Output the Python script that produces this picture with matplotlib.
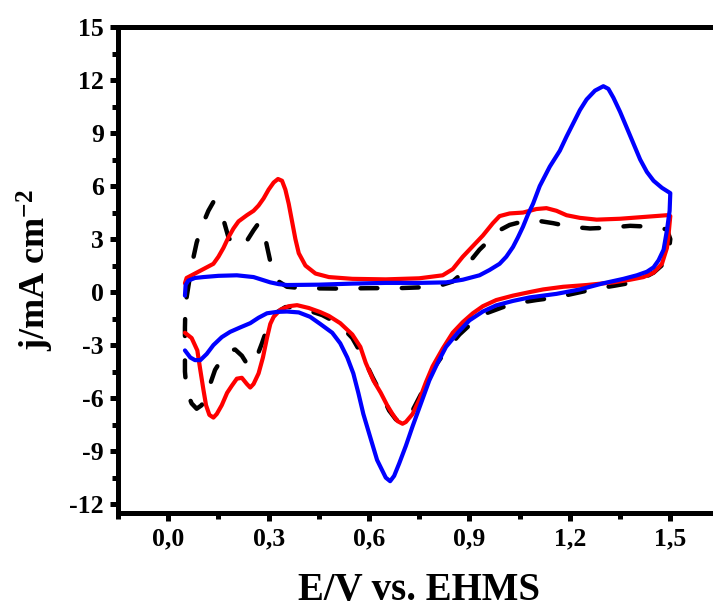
import numpy as np
import matplotlib
matplotlib.use('Agg')
import matplotlib.pyplot as plt
from matplotlib.ticker import MultipleLocator, FuncFormatter

plt.rcParams['font.family'] = ['Liberation Serif', 'DejaVu Serif']
plt.rcParams['font.weight'] = 'bold'
plt.rcParams['mathtext.fontset'] = 'custom'
plt.rcParams['mathtext.rm'] = 'Liberation Serif:bold'
plt.rcParams['mathtext.it'] = 'Liberation Serif:bold'
plt.rcParams['mathtext.bf'] = 'Liberation Serif:bold'
plt.rcParams['axes.unicode_minus'] = False

# black dashed curve: anodic sweep, then cathodic sweep
black_x_an = [0.055, 0.06, 0.07, 0.085, 0.10, 0.12, 0.135, 0.15, 0.165, 0.18, 0.195, 0.215, 0.235, 0.255, 0.27,
              0.285, 0.295, 0.31, 0.33, 0.355, 0.40, 0.5, 0.6, 0.7, 0.8, 0.85, 0.88, 0.90, 0.93, 0.96, 0.99, 1.02,
              1.06, 1.10, 1.15, 1.2, 1.26, 1.32, 1.38, 1.44, 1.49]
black_y_an = [-0.3, 0.3, 1.5, 2.8, 3.7, 4.6, 5.1, 4.8, 4.1, 3.1, 2.65, 2.6, 2.9, 3.5, 3.9,
              3.5, 2.6, 1.3, 0.6, 0.3, 0.22, 0.2, 0.22, 0.23, 0.3, 0.6, 1.1, 1.7, 2.4, 2.95, 3.5, 3.8,
              4.0, 4.05, 3.9, 3.7, 3.6, 3.65, 3.75, 3.7, 3.55]
black_x_ca = [1.5, 1.495, 1.48, 1.45, 1.42, 1.39, 1.33, 1.28, 1.22, 1.16, 1.10, 1.05, 1.0, 0.95, 0.91, 0.87,
              0.83, 0.79, 0.76, 0.73, 0.71, 0.695, 0.68, 0.66, 0.64, 0.61, 0.58, 0.55, 0.52, 0.49, 0.46, 0.42,
              0.38, 0.35, 0.32, 0.30, 0.28, 0.26, 0.24, 0.22, 0.20, 0.185, 0.16, 0.14, 0.12, 0.10, 0.085, 0.07,
              0.055, 0.05, 0.05, 0.052]
black_y_ca = [3.0, 2.2, 1.6, 1.1, 0.8, 0.55, 0.35, 0.2, -0.05, -0.3, -0.45, -0.6, -0.85, -1.2, -1.7, -2.4,
              -3.3, -4.4, -5.6, -6.7, -7.3, -7.4, -7.2, -6.7, -5.9, -4.8, -3.6, -2.6, -2.0, -1.6, -1.3, -1.05,
              -0.85, -0.85, -1.2, -1.8, -2.9, -3.9, -4.2, -3.6, -3.25, -3.3, -3.8, -4.4, -5.5, -6.4, -6.6, -6.3,
              -5.6, -4.5, -2.0, -0.3]

# red curve
red_x_an = [0.05, 0.055, 0.08, 0.105, 0.135, 0.15, 0.165, 0.18, 0.195, 0.21, 0.235, 0.255, 0.27, 0.285, 0.30,
            0.315, 0.328, 0.34, 0.35, 0.36, 0.37, 0.38, 0.39, 0.41, 0.44, 0.48, 0.55, 0.65, 0.75, 0.82, 0.85,
            0.88, 0.91, 0.94, 0.97, 0.99, 1.02, 1.06, 1.10, 1.13, 1.16, 1.19, 1.23, 1.28, 1.35, 1.42, 1.49, 1.5]
red_y_an = [0.5, 0.8, 1.05, 1.3, 1.6, 2.0, 2.5, 3.1, 3.6, 4.0, 4.35, 4.6, 4.9, 5.3, 5.8,
            6.2, 6.4, 6.3, 5.8, 5.0, 4.0, 3.0, 2.2, 1.5, 1.05, 0.85, 0.75, 0.72, 0.78, 0.95, 1.3,
            2.0, 2.6, 3.2, 3.9, 4.3, 4.45, 4.5, 4.7, 4.75, 4.6, 4.35, 4.2, 4.1, 4.15, 4.25, 4.35, 4.3]
red_x_ca = [1.495, 1.49, 1.475, 1.45, 1.42, 1.38, 1.33, 1.25, 1.18, 1.12, 1.08, 1.03, 0.98, 0.94, 0.91, 0.88,
            0.85, 0.82, 0.79, 0.77, 0.75, 0.73, 0.71, 0.70, 0.685, 0.67, 0.654, 0.635, 0.613, 0.59, 0.574,
            0.55, 0.514, 0.48, 0.454, 0.42, 0.385, 0.36, 0.335, 0.315, 0.305, 0.295, 0.283, 0.27, 0.255, 0.245,
            0.235, 0.22, 0.205, 0.19, 0.176, 0.16, 0.145, 0.135, 0.123, 0.113, 0.105, 0.095, 0.087, 0.07, 0.05]
red_y_ca = [3.3, 2.5, 1.6, 1.1, 0.85, 0.7, 0.55, 0.4, 0.3, 0.15, 0.0, -0.2, -0.45, -0.8, -1.2, -1.7,
            -2.3, -3.2, -4.2, -5.1, -6.1, -6.9, -7.35, -7.45, -7.3, -6.9, -6.4, -5.7, -5.0, -4.0, -3.1,
            -2.4, -1.76, -1.35, -1.13, -0.9, -0.74, -0.8, -1.0, -1.4, -1.8, -2.6, -3.7, -4.6, -5.2, -5.4,
            -5.2, -4.85, -4.9, -5.3, -5.7, -6.4, -6.9, -7.1, -6.95, -6.4, -5.5, -4.3, -3.3, -2.6, -2.3]

# blue curve
blue_x_an = [0.05, 0.052, 0.06, 0.08, 0.105, 0.15, 0.205, 0.255, 0.28, 0.305, 0.33, 0.355, 0.45, 0.55, 0.65,
             0.75, 0.83, 0.88, 0.93, 0.96, 0.99, 1.01, 1.03, 1.045, 1.06, 1.075, 1.09, 1.11, 1.14, 1.17, 1.19,
             1.21, 1.23, 1.25, 1.275, 1.30, 1.315, 1.33, 1.35, 1.37, 1.39, 1.41, 1.43, 1.45, 1.475, 1.50]
blue_y_an = [-0.2, 0.4, 0.65, 0.8, 0.85, 0.92, 0.95, 0.85, 0.7, 0.55, 0.45, 0.4, 0.42, 0.48, 0.52,
             0.52, 0.55, 0.7, 0.95, 1.25, 1.6, 2.0, 2.55, 3.1, 3.7, 4.4, 5.0, 6.0, 7.1, 8.0, 8.8,
             9.55, 10.3, 10.9, 11.4, 11.65, 11.5, 11.0, 10.2, 9.3, 8.4, 7.5, 6.8, 6.3, 5.9, 5.6]
blue_x_ca = [1.498, 1.49, 1.48, 1.465, 1.45, 1.43, 1.40, 1.36, 1.30, 1.23, 1.16, 1.08, 1.03, 0.98, 0.94, 0.90,
             0.865, 0.83, 0.805, 0.78, 0.755, 0.73, 0.71, 0.69, 0.675, 0.663, 0.65, 0.637, 0.624, 0.605, 0.583,
             0.568, 0.553, 0.535, 0.514, 0.49, 0.454, 0.424, 0.39, 0.355, 0.325, 0.295, 0.27, 0.245, 0.215,
             0.185, 0.16, 0.135, 0.115, 0.096, 0.08, 0.066, 0.05]
blue_y_ca = [4.6, 3.5, 2.4, 1.8, 1.4, 1.15, 0.95, 0.75, 0.5, 0.15, -0.1, -0.3, -0.5, -0.75, -1.1, -1.6,
             -2.3, -3.1, -4.0, -5.0, -6.3, -7.6, -8.7, -9.7, -10.4, -10.7, -10.5, -10.0, -9.5, -8.3, -6.9,
             -5.7, -4.6, -3.7, -2.9, -2.3, -1.8, -1.4, -1.15, -1.1, -1.12, -1.2, -1.45, -1.76, -2.0,
             -2.25, -2.55, -3.0, -3.5, -3.85, -3.85, -3.7, -3.3]

x_ticks = [0.0, 0.3, 0.6, 0.9, 1.2, 1.5]
y_ticks = [-12, -9, -6, -3, 0, 3, 6, 9, 12, 15]

fig = plt.figure(figsize=(7.13, 6.1), dpi=100)
# axes run past the right edge, as in the cropped reference
ax = fig.add_axes([118 / 713, 97 / 610, 602.5 / 713, 486 / 610])

ax.plot(black_x_an + black_x_ca, black_y_an + black_y_ca, color='black', lw=3.2,
        dashes=(3.8, 5.5), dash_capstyle='round', solid_joinstyle='round')
ax.plot(red_x_an + red_x_ca, red_y_an + red_y_ca, color='#ff0000', lw=3.0,
        solid_capstyle='round', solid_joinstyle='round')
ax.plot(blue_x_an + blue_x_ca, blue_y_an + blue_y_ca, color='#0000ff', lw=3.0,
        solid_capstyle='round', solid_joinstyle='round')

ax.set_xlim(-0.15, 1.65)
ax.set_ylim(-12.5, 15)
ax.set_xticks(x_ticks)
ax.set_yticks(y_ticks)
ax.xaxis.set_minor_locator(MultipleLocator(0.15))
ax.yaxis.set_minor_locator(MultipleLocator(1.5))
ax.xaxis.set_major_formatter(FuncFormatter(lambda v, p: f'{v:.1f}'.replace('.', ',')))
ax.yaxis.set_major_formatter(FuncFormatter(lambda v, p: f'{int(round(v))}'))

for s in ax.spines.values():
    s.set_linewidth(3.6)
ax.tick_params(which='major', direction='out', length=6, width=3.6, labelsize=18.5, pad=4)
ax.tick_params(which='minor', direction='out', length=4, width=3.6)
for lab in ax.get_xticklabels() + ax.get_yticklabels():
    lab.set_fontweight('bold')

ax.set_xlabel('E/V vs. EHMS', fontsize=28, fontweight='bold', labelpad=16)
ax.set_ylabel('j/mA cm$^{-2}$', fontsize=26, fontweight='bold', labelpad=10)

fig.savefig('out.png', dpi=100)
